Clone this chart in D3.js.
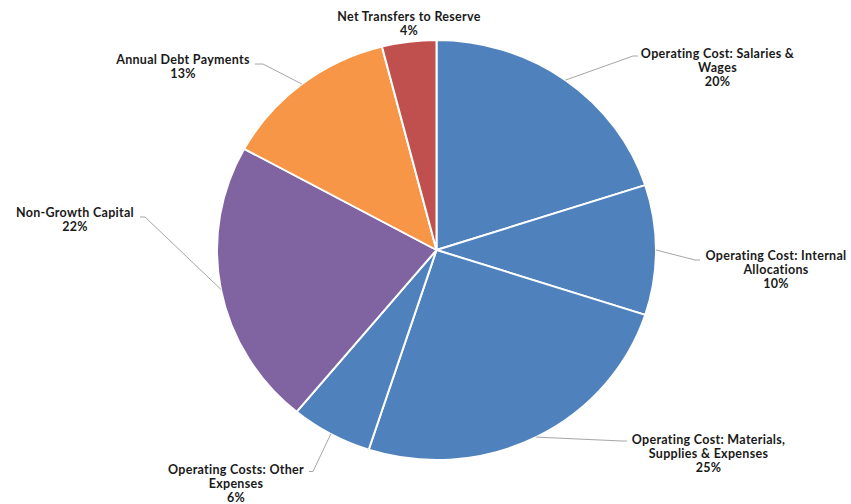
<!DOCTYPE html>
<html>
<head>
<meta charset="utf-8">
<script src="https://cdn.jsdelivr.net/npm/d3@7"></script>
<style>
  html, body { margin: 0; padding: 0; background: #ffffff; }
  svg { display: block; }
  .lbl { font-family: "Lato", "Open Sans", sans-serif; font-weight: 700; font-size: 12.5px; letter-spacing: 0.3px; fill: #1a1a1a; }
</style>
</head>
<body>
<svg id="chart" width="851" height="504"></svg>
<script>
// Budget share by category, clockwise from 12 o'clock
const categories = [
  ["Operating Cost: Salaries &", "Wages"],
  ["Operating Cost: Internal", "Allocations"],
  ["Operating Cost: Materials,", "Supplies & Expenses"],
  ["Operating Costs: Other", "Expenses"],
  ["Non-Growth Capital"],
  ["Annual Debt Payments"],
  ["Net Transfers to Reserve"]
];
const shares = [20, 10, 25, 6, 22, 13, 4];
const colors = ["#4F81BD", "#4F81BD", "#4F81BD", "#4F81BD", "#8064A2", "#F79646", "#C0504D"];

// Label placement: text centre x, first baseline y, leader elbow and end
const labelLayout = [
  { x: 717.5, y: 57.5, elbow: [633, 56], end: [638, 56] },
  { x: 776, y: 260, elbow: [695, 260], end: [700, 260] },
  { x: 708.5, y: 443.5, elbow: [622, 441], end: [627, 441] },
  { x: 236, y: 474, elbow: [313, 471.5], end: [309, 471.5] },
  { x: 75, y: 216.5, elbow: [145, 217], end: [140, 217] },
  { x: 183, y: 64, elbow: [263, 64], end: [255, 64] },
  { x: 409, y: 20.5, elbow: null, end: null }
];

const cx = 436.5, cy = 250, rx = 219.5, ry = 210;
const yScale = ry / rx;
const lineH = 14;

const svg = d3.select("#chart");

const pie = d3.pie().sort(null).value(d => d)(shares);
const arc = d3.arc().innerRadius(0).outerRadius(rx);

const g = svg.append("g")
  .attr("transform", `translate(${cx},${cy}) scale(1,${yScale})`);

g.selectAll("path.slice")
  .data(pie)
  .join("path")
  .attr("class", "slice")
  .attr("d", arc)
  .attr("fill", (d, i) => colors[i])
  .attr("stroke", "#ffffff")
  .attr("stroke-width", 2)
  .attr("stroke-linejoin", "round");

// point on the pie rim at the middle of a slice
function rimPoint(d) {
  const a = (d.startAngle + d.endAngle) / 2;
  return [cx + rx * Math.sin(a), cy - ry * Math.cos(a)];
}

const leaders = svg.append("g");
pie.forEach((d, i) => {
  const L = labelLayout[i];
  if (!L.elbow) return;
  const p = rimPoint(d);
  leaders.append("polyline")
    .attr("points", [p, L.elbow, L.end].map(q => q.join(",")).join(" "))
    .attr("fill", "none")
    .attr("stroke", "#a6a6a6")
    .attr("stroke-width", 1);
});

const labels = svg.append("g");
pie.forEach((d, i) => {
  const L = labelLayout[i];
  const lines = categories[i].concat([d3.format("d")(shares[i]) + "%"]);
  const t = labels.append("text")
    .attr("class", "lbl")
    .attr("text-anchor", "middle");
  lines.forEach((s, k) => {
    t.append("tspan")
      .attr("x", L.x)
      .attr("y", L.y + k * lineH)
      .text(s);
  });
});
</script>
</body>
</html>
